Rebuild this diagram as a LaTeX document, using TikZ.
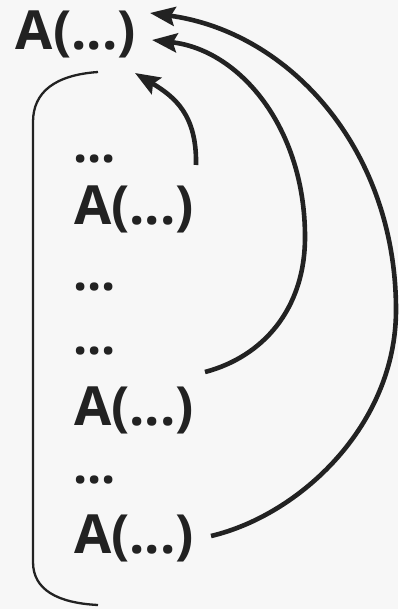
\documentclass[tikz,border=0pt]{standalone}
\usepackage{fontspec}
\setmainfont{Open Sans}
\usetikzlibrary{arrows.meta}
\definecolor{bg}{HTML}{F7F7F7}
\definecolor{ink}{HTML}{222222}
\begin{document}
\begin{tikzpicture}[x=1pt,y=-1pt,
  lbl/.style={anchor=base west,inner sep=0pt,outer sep=0pt,text=ink,font=\fontsize{54}{64}\selectfont\bfseries},
  dots/.style={anchor=base west,inner sep=0pt,outer sep=0pt,text=ink,font=\fontsize{50}{60}\selectfont\bfseries},
  conn/.style={draw=ink,line width=4.6pt,-{Stealth[length=25pt,width=19pt,inset=4pt]}},
  brace/.style={draw=ink,line width=2.3pt}]
\fill[bg] (0,0) rectangle (398,609);
\useasboundingbox (0,0) rectangle (398,609);
\node[lbl] (top) at (16,50) {A(...)};
\node[dots] (d1) at (73,163) {...};
\node[lbl] (a2) at (74,225) {A(...)};
\node[dots] (d2) at (73,290) {...};
\node[dots] (d3) at (73,354) {...};
\node[lbl] (a3) at (74,425) {A(...)};
\node[dots] (d4) at (73,483) {...};
\node[lbl] (a4) at (74,553) {A(...)};
% connector ends
\coordinate (s1) at (196,165);
\coordinate (e1) at (135,73);
\coordinate (s2) at (205,372);
\coordinate (m2) at (305,237);
\coordinate (e2) at (152,40);
\coordinate (s3) at (211,536);
\coordinate (m3) at (396,310);
\coordinate (e3) at (150,13);
\draw[conn] (s1) .. controls (197,115) and (175,97) .. (e1);
\draw[conn] (s2) .. controls (262,357) and (305,310) .. (m2) .. controls (305,128) and (240,50) .. (e2);
\draw[conn] (s3) .. controls (300,515) and (396,425) .. (m3) .. controls (396,150) and (290,32) .. (e3);
% bracket
\draw[brace] (98,72) .. controls (55,75) and (33,92) .. (33,122) -- (33,562) .. controls (33,590) and (58,603) .. (98,605);
\end{tikzpicture}
\end{document}
